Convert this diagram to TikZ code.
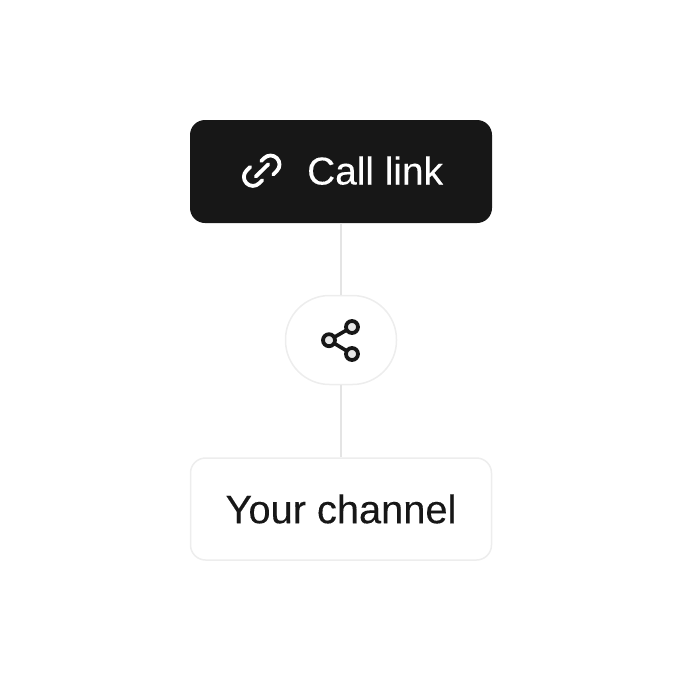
\documentclass[tikz,border=0pt]{standalone}
\usepackage{fontspec}
\setmainfont[FakeBold=0.2]{Liberation Sans}
\definecolor{ink}{HTML}{171717}
\definecolor{edge}{HTML}{EDEDED}
\definecolor{wire}{HTML}{E4E4E4}
\definecolor{dot}{HTML}{E8E8E8}
\tikzset{
  boxbase/.style={rectangle,rounded corners=15pt,minimum width=302pt,minimum height=103pt,inner sep=0pt},
  darkbox/.style={boxbase,fill=ink},
  lightbox/.style={boxbase,minimum width=301pt,minimum height=102pt,draw=edge,line width=1.5pt,fill=white,text=ink,font=\fontsize{39.8}{40}\selectfont},
  pill/.style={rectangle,rounded corners=44pt,minimum width=111pt,minimum height=89pt,inner sep=0pt,draw=edge,line width=1.5pt,fill=white},
  wireline/.style={draw=wire,line width=1.5pt},
  glyph/.style={line width=3.8pt,line cap=round,line join=round,draw=white},
  sharedot/.style={circle,draw=ink,line width=3.8pt,fill=dot,minimum size=12pt,inner sep=0pt},
}
\begin{document}
\begin{tikzpicture}[x=1pt,y=-1pt]
\useasboundingbox (0,0) rectangle (680,680);
\node[darkbox] (call) at (341,171.5) {};
\node[pill] (share) at (341,340) {};
\node[lightbox] (chan) at (341,509) {Your channel};
\node[anchor=base west,text=white,inner sep=0pt,font=\fontsize{38.8}{39}\selectfont] (calltext) at (307,184.5) {Call link};
\draw[wireline] (call) -- (share);
\draw[wireline] (share) -- (chan);
% link icon
\begin{scope}[shift={(261.7,170.7)}]
\draw[glyph] (-0.56,-9.56) -- (2.44,-12.56) .. controls (5.96,-16.08) and (11.64,-16.08) .. (15.16,-12.56) .. controls (18.68,-9.04) and (18.68,-3.36) .. (15.16,0.16) -- (11.5,3.8);
\draw[glyph] (0.56,9.56) -- (-2.44,12.56) .. controls (-5.96,16.08) and (-11.64,16.08) .. (-15.16,12.56) .. controls (-18.68,9.04) and (-18.68,3.36) .. (-15.16,-0.16) -- (-11.5,-3.8);
\end{scope}
\coordinate (ba) at (255.7,176.6);
\coordinate (bb) at (268.3,164.3);
\draw[glyph] (ba) -- (bb);
% share icon
\coordinate (sa) at (352,327);
\coordinate (sb) at (329,340.2);
\coordinate (sc) at (352,354);
\draw[line width=3.6pt,draw=ink] (sa) -- (sb) -- (sc);
\node[sharedot] (da) at (sa) {};
\node[sharedot] (db) at (sb) {};
\node[sharedot] (dc) at (sc) {};
\end{tikzpicture}
\end{document}
